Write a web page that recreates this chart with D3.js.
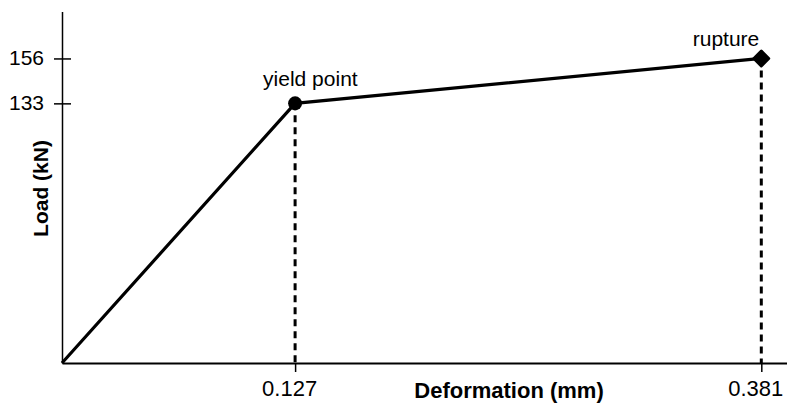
<!DOCTYPE html>
<html lang="en">
<head>
  <meta charset="UTF-8">
  <title>Load_Deformation</title>
  <script src="https://cdn.jsdelivr.net/npm/d3@7"></script>
  <style>
    body { margin: 0; background: #fff; }
    text { font-family: "Liberation Sans", Arial, sans-serif; }
  </style>
</head>
<body>
  <div id="chart"></div>

  <script>
    // values
    const deformation = [0, 0.127, 0.381];   // mm
    const load = [0, 133, 156];               // kN
    const pointNames = ["", "yield point", "rupture"];
    const xTicks = [0.127, 0.381];
    const yTicks = [133, 156];

    const width = 787,
      height = 404;

    const x = d3.scaleLinear().domain([0, 0.395]).range([62, 787]);
    const y = d3.scaleLinear().domain([0, 180]).range([363, 11.6]);

    const svg = d3.select('#chart')
      .append('svg')
        .attr('width', width)
        .attr('height', height);

    // x axis
    const gx = svg.append('g')
      .attr('transform', `translate(0,${y(0)})`)
      .call(d3.axisBottom(x).tickValues(xTicks).tickSizeInner(9).tickSizeOuter(0)
        .tickFormat(d3.format('.3f')));
    gx.attr('font-family', null);
    gx.select('.domain').attr('stroke-width', 1.8);
    gx.selectAll('.tick line').attr('stroke-width', 1.5);
    gx.selectAll('.tick text')
      .attr('font-size', 22)
      .attr('fill', '#000')
      .attr('x', -6)
      .attr('y', 17);

    // y axis
    const gy = svg.append('g')
      .attr('transform', `translate(${x(0)},0)`)
      .call(d3.axisLeft(y).tickValues(yTicks).tickSizeInner(8).tickSizeOuter(0));
    gy.attr('font-family', null);
    gy.select('.domain').attr('stroke-width', 1.5);
    gy.selectAll('.tick line').attr('x1', 9).attr('stroke-width', 1.5);
    gy.selectAll('.tick text')
      .attr('font-size', 21)
      .attr('fill', '#000')
      .attr('x', -18)
      .attr('dy', '0.3em');

    // axis titles
    svg.append('text')
      .attr('x', 509)
      .attr('y', 398)
      .attr('text-anchor', 'middle')
      .attr('font-size', 22)
      .attr('font-weight', 'bold')
      .text('Deformation (mm)');

    svg.append('text')
      .attr('transform', 'translate(48,188.5) rotate(-90)')
      .attr('text-anchor', 'middle')
      .attr('font-size', 21)
      .attr('font-weight', 'bold')
      .text('Load (kN)');

    const pts = deformation.map((d, i) => ({x: d, y: load[i], name: pointNames[i]}));

    // dashed drop lines
    svg.selectAll('line.drop')
      .data(pts.slice(1))
      .join('line')
        .attr('class', 'drop')
        .attr('x1', d => x(d.x))
        .attr('x2', d => x(d.x))
        .attr('y1', d => y(d.y))
        .attr('y2', y(0))
        .attr('stroke', '#000')
        .attr('stroke-width', 3)
        .attr('stroke-dasharray', '7,5');

    // load-deformation line
    svg.append('path')
      .datum(pts)
      .attr('fill', 'none')
      .attr('stroke', '#000')
      .attr('stroke-width', 3.2)
      .attr('d', d3.line().x(d => x(d.x)).y(d => y(d.y)));

    // markers
    svg.append('circle')
      .attr('cx', x(pts[1].x))
      .attr('cy', y(pts[1].y))
      .attr('r', 7)
      .attr('fill', '#000');

    svg.append('path')
      .attr('d', d3.symbol(d3.symbolSquare, 110)())
      .attr('transform', `translate(${x(pts[2].x)},${y(pts[2].y)}) rotate(45)`)
      .attr('fill', '#000')
      .attr('stroke', '#000')
      .attr('stroke-width', 3)
      .attr('stroke-linejoin', 'round');

    // point labels
    svg.append('text')
      .attr('x', x(pts[1].x) - 32)
      .attr('y', 86)
      .attr('font-size', 21)
      .text(pts[1].name);

    svg.append('text')
      .attr('x', x(pts[2].x) - 2)
      .attr('y', 46)
      .attr('text-anchor', 'end')
      .attr('font-size', 21)
      .text(pts[2].name);
  </script>
</body>
</html>
